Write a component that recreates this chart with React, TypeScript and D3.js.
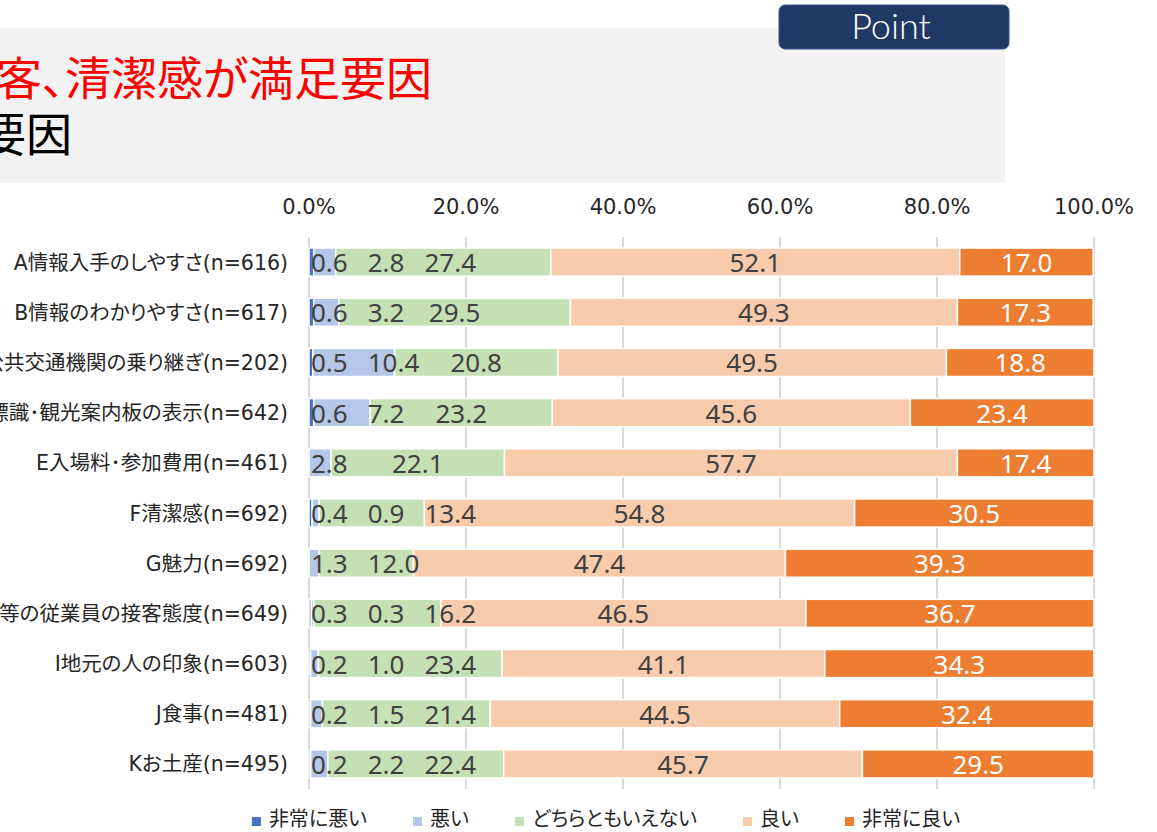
import React, { useEffect, useRef } from 'react';
import * as d3 from 'd3';

const categories = [
  'A情報入手のしやすさ(n=616)',
  'B情報のわかりやすさ(n=617)',
  'C公共交通機関の乗り継ぎ(n=202)',
  'D道路標識･観光案内板の表示(n=642)',
  'E入場料･参加費用(n=461)',
  'F清潔感(n=692)',
  'G魅力(n=692)',
  'H店舗等の従業員の接客態度(n=649)',
  'I地元の人の印象(n=603)',
  'J食事(n=481)',
  'Kお土産(n=495)',
];
const seriesNames = ['非常に悪い', '悪い', 'どちらともいえない', '良い', '非常に良い'];
const veryBad = [0.6, 0.6, 0.5, 0.6, 0, 0.4, 0, 0.3, 0.2, 0.2, 0.2];
const bad = [2.8, 3.2, 10.4, 7.2, 2.8, 0.9, 1.3, 0.3, 1.0, 1.5, 2.2];
const neutral = [27.4, 29.5, 20.8, 23.2, 22.1, 13.4, 12.0, 16.2, 23.4, 21.4, 22.4];
const good = [52.1, 49.3, 49.5, 45.6, 57.7, 54.8, 47.4, 46.5, 41.1, 44.5, 45.7];
const veryGood = [17.0, 17.3, 18.8, 23.4, 17.4, 30.5, 39.3, 36.7, 34.3, 32.4, 29.5];
const tickValues = [0, 20, 40, 60, 80, 100];
const titleLine1 = '店舗等の従業員の接客、清潔感が満足要因';
const titleLine2 = '総合満足度の要因';
const pointLabel = 'Point';

const colors = ['#4472c4', '#b4c7e7', '#c5e0b4', '#f8cbad', '#ed7d31'];
const labelColors = ['#404040', '#404040', '#404040', '#404040', '#ffffff'];

const W = 1157;
const H = 832;
const JP = "'Noto Sans CJK JP', 'Noto Sans', sans-serif";
const CAT = "'DejaVu Sans', 'Noto Sans CJK JP', sans-serif";
const NUM = "'Noto Sans', 'DejaVu Sans', sans-serif";

export default function App() {
  const ref = useRef<SVGSVGElement | null>(null);

  useEffect(() => {
    const svg = d3.select(ref.current);
    svg.selectAll('*').remove();

    const keys = ['vb', 'b', 'n', 'g', 'vg'];
    const table = categories.map((c, i) => ({
      cat: c,
      vb: veryBad[i],
      b: bad[i],
      n: neutral[i],
      g: good[i],
      vg: veryGood[i],
    }));

    const x = d3.scaleLinear().domain([0, 100]).range([309, 1094]);
    const y = d3
      .scaleBand<string>()
      .domain(categories)
      .range([237, 789])
      .paddingInner(0.44)
      .paddingOuter(0.22);

    // Title box
    svg.append('rect').attr('x', 0).attr('y', 28).attr('width', 1005).attr('height', 155).attr('fill', '#f2f2f2');
    svg
      .append('text')
      .attr('x', 432)
      .attr('y', 95)
      .attr('text-anchor', 'end')
      .attr('font-family', JP)
      .attr('font-size', 46)
      .style('font-feature-settings', '"palt"')
      .attr('fill', '#ff0000')
      .text(titleLine1);
    svg
      .append('text')
      .attr('x', 72)
      .attr('y', 151)
      .attr('text-anchor', 'end')
      .attr('font-family', JP)
      .attr('font-size', 46)
      .attr('fill', '#000000')
      .text(titleLine2);

    // Point badge
    svg
      .append('rect')
      .attr('x', 779)
      .attr('y', 5)
      .attr('width', 230)
      .attr('height', 44)
      .attr('rx', 6)
      .attr('fill', '#203864')
      .attr('stroke', '#3a5488')
      .attr('stroke-width', 1);
    svg
      .append('text')
      .attr('x', 891)
      .attr('y', 39)
      .attr('text-anchor', 'middle')
      .attr('font-family', "'Lato', 'Open Sans', sans-serif")
      .attr('font-weight', 300)
      .attr('font-size', 36)
      .attr('fill', '#ffffff')
      .text(pointLabel);

    // gridlines
    const [y0, y1] = y.range();
    svg
      .append('g')
      .selectAll('line')
      .data(tickValues)
      .join('line')
      .attr('x1', (d) => x(d))
      .attr('x2', (d) => x(d))
      .attr('y1', y0)
      .attr('y2', y1)
      .attr('stroke', '#d9d9d9')
      .attr('stroke-width', 2);

    // tick labels
    svg
      .append('g')
      .selectAll('text')
      .data(tickValues)
      .join('text')
      .attr('x', (d) => x(d))
      .attr('y', 214)
      .attr('text-anchor', 'middle')
      .attr('font-family', "'DejaVu Sans', sans-serif")
      .attr('font-size', 21)
      .attr('fill', '#262626')
      .text((d) => d3.format('.1f')(d) + '%');

    // category labels
    svg
      .append('g')
      .selectAll('text')
      .data(categories)
      .join('text')
      .attr('x', 288)
      .attr('y', (d) => (y(d) as number) + y.bandwidth() / 2 + 7.5)
      .attr('text-anchor', 'end')
      .attr('font-family', CAT)
      .attr('font-size', 20.5)
      .style('font-feature-settings', '"palt"')
      .attr('fill', '#262626')
      .text((d) => d);

    // stacked bars
    const stack = d3.stack<any>().keys(keys);
    const series = stack(table as any);
    const barG = svg.append('g');
    series.forEach((s, si) => {
      barG
        .append('g')
        .selectAll('rect')
        .data(s.filter((d) => d[1] - d[0] > 0))
        .join('rect')
        .attr('x', (d) => x(d[0]))
        .attr('y', (d) => y(d.data.cat) as number)
        .attr('width', (d) => x(d[1]) - x(d[0]))
        .attr('height', y.bandwidth())
        .attr('fill', colors[si])
        .attr('stroke', '#ffffff')
        .attr('stroke-width', 1.5);
    });

    // data labels
    const labelG = svg.append('g');
    const fmt = d3.format('.1f');
    const gap = 20;
    table.forEach((row, ri) => {
      const cy = (y(row.cat) as number) + y.bandwidth() / 2 + 10;
      let prevRight = x(0) + 2 - gap;
      series.forEach((s, si) => {
        const d = s[ri];
        const v = d[1] - d[0];
        if (!(v > 0)) return;
        const t = labelG
          .append('text')
          .attr('y', cy)
          .attr('text-anchor', 'middle')
          .attr('font-family', NUM)
          .attr('font-size', 26)
          .attr('fill', labelColors[si])
          .text(fmt(v));
        const w = (t.node() as SVGTextElement).getComputedTextLength();
        const natural = (x(d[0]) + x(d[1])) / 2;
        let cx = natural;
        if (si < 3) {
          const left = Math.max(natural - w / 2, prevRight + gap);
          cx = left + w / 2;
          prevRight = left + w;
        }
        t.attr('x', cx);
      });
    });

    // legend
    const legG = svg.append('g');
    const legGap = 46;
    let lx = 0;
    const items: { sx: number; tw: number }[] = [];
    seriesNames.forEach((name) => {
      const t = legG
        .append('text')
        .attr('y', 826)
        .attr('font-family', JP)
        .attr('font-size', 20)
        .style('font-feature-settings', '"palt"')
        .attr('fill', '#262626')
        .text(name);
      const tw = (t.node() as SVGTextElement).getComputedTextLength();
      items.push({ sx: lx, tw });
      lx += 17 + tw + legGap;
    });
    const total = lx - legGap;
    const startX = 606 - total / 2;
    legG.selectAll('text').each(function (_d, i) {
      d3.select(this).attr('x', startX + items[i].sx + 17);
    });
    seriesNames.forEach((_n, i) => {
      legG
        .append('rect')
        .attr('x', startX + items[i].sx)
        .attr('y', 817)
        .attr('width', 9)
        .attr('height', 9)
        .attr('fill', colors[i]);
    });
  }, []);

  return (
    <svg
      ref={ref}
      width={W}
      height={H}
      style={{ position: 'absolute', left: 0, top: 0, background: '#ffffff' }}
    />
  );
}
